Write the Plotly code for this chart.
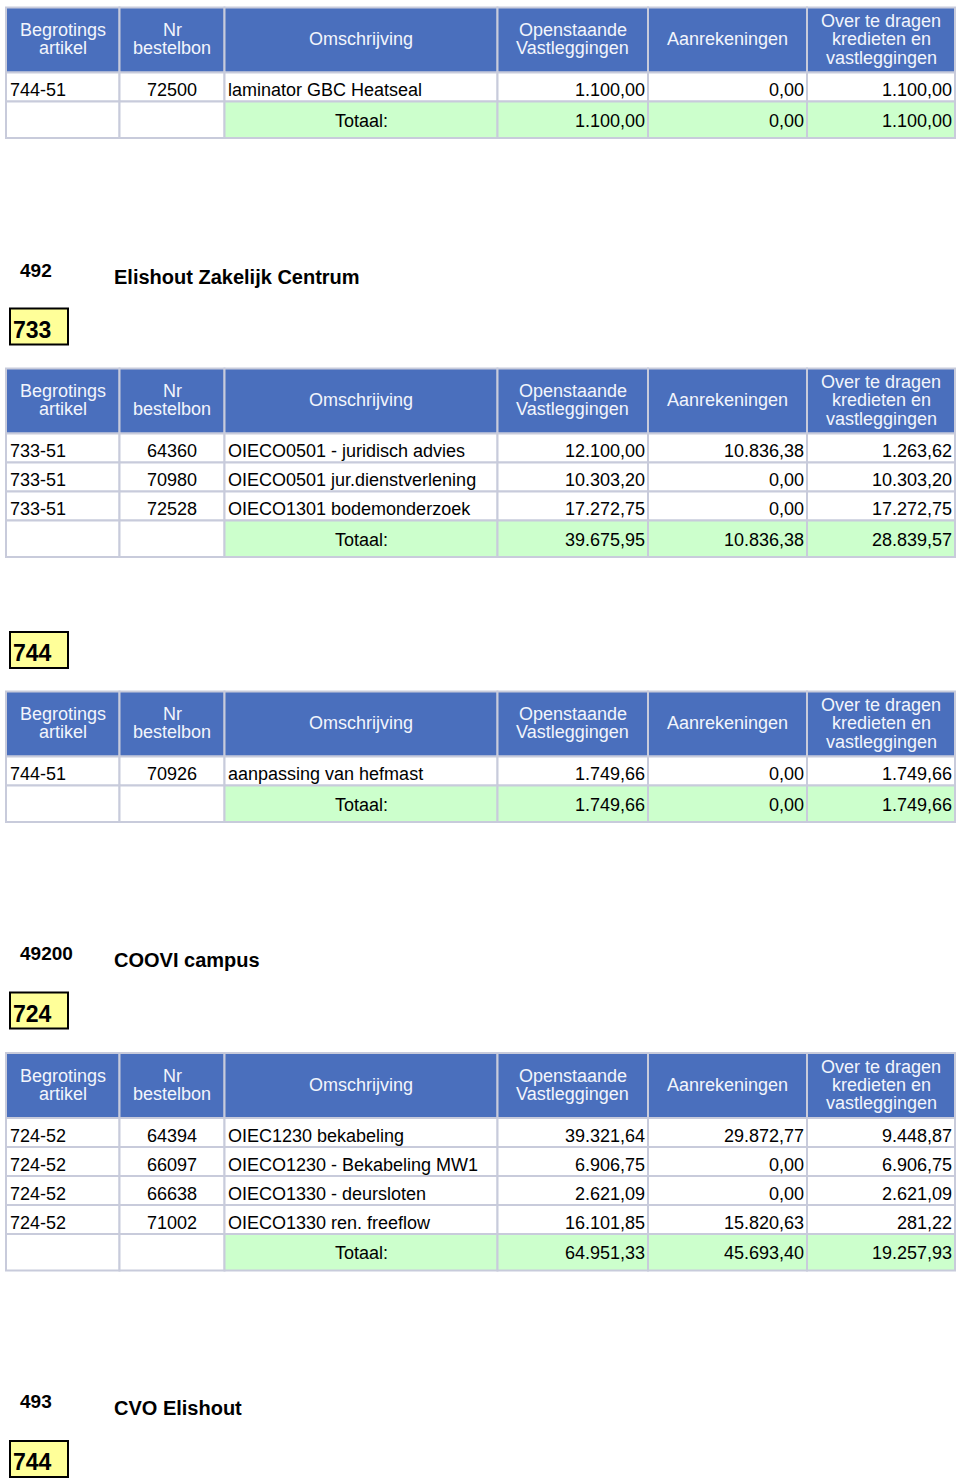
import plotly.graph_objects as go

# ---------------- data ----------------
header_lines = [["Begrotings", "artikel"], ["Nr", "bestelbon"], ["Omschrijving"],
                ["Openstaande", "Vastleggingen"], ["Aanrekeningen"],
                ["Over te dragen", "kredieten en", "vastleggingen"]]
total_label = "Totaal:"

# table 1 (artikel 744, continued)
t1_artikel = ["744-51"]
t1_bestelbon = ["72500"]
t1_omschrijving = ["laminator GBC Heatseal"]
t1_openstaand = [1100.00]
t1_aanrekening = [0.00]
t1_over = [1100.00]
t1_totaal = [1100.00, 0.00, 1100.00]

# table 2 (492 Elishout Zakelijk Centrum - 733)
t2_artikel = ["733-51", "733-51", "733-51"]
t2_bestelbon = ["64360", "70980", "72528"]
t2_omschrijving = ["OIECO0501 - juridisch advies", "OIECO0501 jur.dienstverlening",
                   "OIECO1301 bodemonderzoek"]
t2_openstaand = [12100.00, 10303.20, 17272.75]
t2_aanrekening = [10836.38, 0.00, 0.00]
t2_over = [1263.62, 10303.20, 17272.75]
t2_totaal = [39675.95, 10836.38, 28839.57]

# table 3 (744)
t3_artikel = ["744-51"]
t3_bestelbon = ["70926"]
t3_omschrijving = ["aanpassing van hefmast"]
t3_openstaand = [1749.66]
t3_aanrekening = [0.00]
t3_over = [1749.66]
t3_totaal = [1749.66, 0.00, 1749.66]

# table 4 (49200 COOVI campus - 724)
t4_artikel = ["724-52", "724-52", "724-52", "724-52"]
t4_bestelbon = ["64394", "66097", "66638", "71002"]
t4_omschrijving = ["OIEC1230 bekabeling", "OIECO1230 - Bekabeling MW1",
                   "OIECO1330 - deursloten", "OIECO1330 ren. freeflow"]
t4_openstaand = [39321.64, 6906.75, 2621.09, 16101.85]
t4_aanrekening = [29872.77, 0.00, 0.00, 15820.63]
t4_over = [9448.87, 6906.75, 2621.09, 281.22]
t4_totaal = [64951.33, 45693.40, 19257.93]

group_codes = ["492", "49200", "493"]
group_names = ["Elishout Zakelijk Centrum", "COOVI campus", "CVO Elishout"]
box_labels = ["733", "744", "724", "744"]

# ---------------- layout constants ----------------
W, H = 960, 1483
col_edges = [6, 119.5, 224.5, 497.5, 648, 807, 955]
table_tops = [7.5, 368.5, 691.5, 1053]
header_h, row_h, total_h = 65, 29, 36.5
heading_y = [270, 953.5, 1401.7]
title_y = [276.5, 960, 1407.5]
box_tops = [308.5, 632, 992.5, 1441]
box_h = 36
line_h = 18.3

FONT = "Arial, 'Liberation Sans', sans-serif"
BLUE = "#4a6fbd"
GRID = "#c8cbdb"
GREEN = "#ccffcc"
HEAD_TXT = "#f2f5fc"


def nl(v):
    s = f"{v:,.2f}"
    return s.replace(",", "X").replace(".", ",").replace("X", ".")


shapes = []
annotations = []


def rect(x0, x1, y0, y1, fill, line=GRID, lw=2):
    shapes.append(dict(type="rect", xref="x", yref="y", x0=x0, x1=x1, y0=y0, y1=y1,
                       fillcolor=fill, line=dict(color=line, width=lw), layer="below"))


def text(x, y, s, anchor="left", size=18, color="black", bold=False):
    annotations.append(dict(x=x, y=y, xref="x", yref="y", text=(f"<b>{s}</b>" if bold else s),
                            showarrow=False, xanchor=anchor, yanchor="middle",
                            borderpad=0, borderwidth=0,
                            font=dict(family=FONT, size=size, color=color)))


def cell_text(ci, y, s):
    x0, x1 = col_edges[ci], col_edges[ci + 1]
    if ci in (0, 2):
        text(x0 + 3.5, y, s, "left")
    elif ci == 1:
        text((x0 + x1) / 2, y, s, "center")
    else:
        text(x1 - 3, y, s, "right")


def draw_table(top, artikel, bestel, omschr, openst, aanr, over, totaal):
    # header
    for ci, lines in enumerate(header_lines):
        x0, x1 = col_edges[ci], col_edges[ci + 1]
        rect(x0, x1, top, top + header_h, BLUE)
        cy = top + header_h / 2 - 0.7
        n = len(lines)
        for li, ln in enumerate(lines):
            ly = cy + (li - (n - 1) / 2) * line_h
            text((x0 + x1) / 2, ly, ln, "center", color=HEAD_TXT)
    y = top + header_h
    for r in range(len(artikel)):
        vals = [artikel[r], bestel[r], omschr[r], nl(openst[r]), nl(aanr[r]), nl(over[r])]
        for ci in range(6):
            rect(col_edges[ci], col_edges[ci + 1], y, y + row_h, "white")
            cell_text(ci, y + row_h / 2 + 3, vals[ci])
        y += row_h
    tvals = ["", "", total_label] + [nl(v) for v in totaal]
    for ci in range(6):
        rect(col_edges[ci], col_edges[ci + 1], y, y + total_h, "white" if ci < 2 else GREEN)
        if ci == 2:
            text((col_edges[2] + col_edges[3]) / 2, y + total_h / 2 + 1, tvals[ci], "center")
        elif ci > 2:
            cell_text(ci, y + total_h / 2 + 1, tvals[ci])


tables = [
    (t1_artikel, t1_bestelbon, t1_omschrijving, t1_openstaand, t1_aanrekening, t1_over, t1_totaal),
    (t2_artikel, t2_bestelbon, t2_omschrijving, t2_openstaand, t2_aanrekening, t2_over, t2_totaal),
    (t3_artikel, t3_bestelbon, t3_omschrijving, t3_openstaand, t3_aanrekening, t3_over, t3_totaal),
    (t4_artikel, t4_bestelbon, t4_omschrijving, t4_openstaand, t4_aanrekening, t4_over, t4_totaal),
]
for top, tb in zip(table_tops, tables):
    draw_table(top, *tb)

for code, name, yc, yt in zip(group_codes, group_names, heading_y, title_y):
    text(20, yc, code, "left", size=19, bold=True)
    text(114, yt, name, "left", size=20, bold=True)

for lab, bt in zip(box_labels, box_tops):
    shapes.append(dict(type="rect", xref="x", yref="y", x0=10, x1=68, y0=bt, y1=bt + box_h,
                       fillcolor="#ffff99", line=dict(color="black", width=2), layer="below"))
    text(12.5, bt + box_h / 2 + 3, lab, "left", size=23, bold=True)

fig = go.Figure()
fig.add_trace(go.Scatter(x=[0, W], y=[0, H], mode="markers", marker=dict(opacity=0),
                         hoverinfo="skip", showlegend=False))
fig.update_layout(
    width=W, height=H, margin=dict(l=0, r=0, t=0, b=0),
    paper_bgcolor="white", plot_bgcolor="white",
    xaxis=dict(range=[0, W], visible=False, fixedrange=True),
    yaxis=dict(range=[H, 0], visible=False, fixedrange=True),
    shapes=shapes, annotations=annotations, showlegend=False,
)
fig.write_html("out.html", config={"displayModeBar": False},
               post_script="document.body.style.margin='0';document.body.style.padding='0';")
